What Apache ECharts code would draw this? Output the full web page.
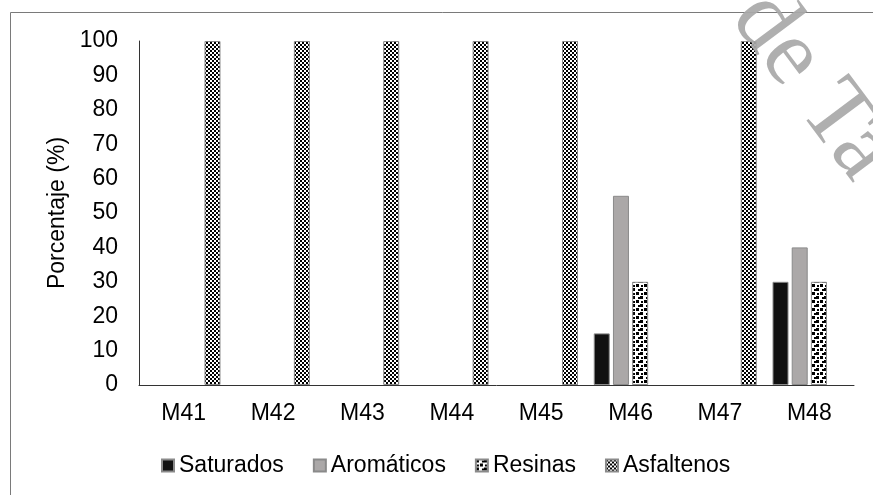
<!DOCTYPE html>
<html>
<head>
<meta charset="utf-8">
<script src="https://cdn.jsdelivr.net/npm/echarts@6/dist/echarts.min.js"></script>
<style>
html,body{margin:0;padding:0;background:#fff;}
#chart{width:873px;height:495px;}
</style>
</head>
<body>
<div id="chart"></div>
<script>
const categories = ['M41','M42','M43','M44','M45','M46','M47','M48'];
const seriesNames = ['Saturados','Aromáticos','Resinas','Asfaltenos'];
const saturados  = [null, null, null, null, null, 15, null, 30];
const aromaticos = [null, null, null, null, null, 55, null, 40];
const resinas    = [null, null, null, null, null, 30, null, 30];
const asfaltenos = [100, 100, 100, 100, 100, null, 100, null];
const yTicks = [0,10,20,30,40,50,60,70,80,90,100];

function checkerPattern(){
  const c = document.createElement('canvas');
  c.width = 4; c.height = 4;
  const g = c.getContext('2d');
  g.fillStyle = '#fff'; g.fillRect(0,0,4,4);
  g.fillStyle = '#000';
  g.fillRect(0,0,2,2); g.fillRect(2,2,2,2);
  return c;
}
function confettiPattern(){
  const c = document.createElement('canvas');
  c.width = 8; c.height = 8;
  const g = c.getContext('2d');
  g.fillStyle = '#fff'; g.fillRect(0,0,8,8);
  g.fillStyle = '#000';
  g.fillRect(0,0,3,3);
  g.fillRect(4,4,3,3);
  g.fillRect(6,1,2,2);
  g.fillRect(1,5,2,2);
  return c;
}

const chart = echarts.init(document.getElementById('chart'), null, {renderer:'canvas'});
const FONT = 'Liberation Sans';
const colors = [
  '#111111',
  '#aba8a8',
  {image: confettiPattern(), repeat: 'repeat'},
  {image: checkerPattern(), repeat: 'repeat'}
];
const values = [saturados, aromaticos, resinas, asfaltenos];

chart.setOption({
  animation: false,
  backgroundColor: '#ffffff',
  graphic: [
    {type:'rect', z:-10, shape:{x:10.5, y:12.5, width:1000, height:1000},
     style:{fill:'none', stroke:'#7a7a7a', lineWidth:1}},
    {type:'text', z:100, x:750, y:3, rotation:-0.93,
     style:{text:'de Ta', font:'95px "Liberation Serif"', fill:'rgba(168,168,168,0.92)',
            align:'left', verticalAlign:'middle'}}
  ],
  grid: {left:139, right:19, top:41, bottom:110, containLabel:false},
  legend: {
    data: seriesNames,
    left: 161, top: 454, padding: 0,
    itemWidth: 12, itemHeight: 12, itemGap: 29,
    icon: 'rect',
    textStyle: {fontFamily: FONT, fontSize: 23, color:'#000', padding:[0,0,0,0]}
  },
  xAxis: {
    type: 'category',
    data: categories,
    axisLine: {show:true, lineStyle:{color:'#333', width:1}},
    axisTick: {show:false},
    axisLabel: {fontFamily: FONT, fontSize: 23, color:'#000', margin: 17},
    splitLine: {show:false}
  },
  yAxis: {
    type: 'value',
    min: 0, max: 100, interval: 10,
    name: 'Porcentaje (%)',
    nameLocation: 'middle',
    nameGap: 70,
    nameRotate: 90,
    nameTextStyle: {fontFamily: FONT, fontSize: 23, color:'#000'},
    axisLine: {show:true, lineStyle:{color:'#333', width:1}},
    axisTick: {show:false},
    axisLabel: {fontFamily: FONT, fontSize: 23, color:'#000', margin: 21,
      formatter: v => yTicks.includes(v) ? String(v) : ''},
    splitLine: {show:false}
  },
  series: seriesNames.map((n,i) => ({
    name: n,
    type: 'bar',
    data: values[i],
    barWidth: 16,
    barGap: '20%',
    itemStyle: {color: colors[i], borderColor: '#8a8a8a', borderWidth: 1}
  }))
});
</script>
</body>
</html>
